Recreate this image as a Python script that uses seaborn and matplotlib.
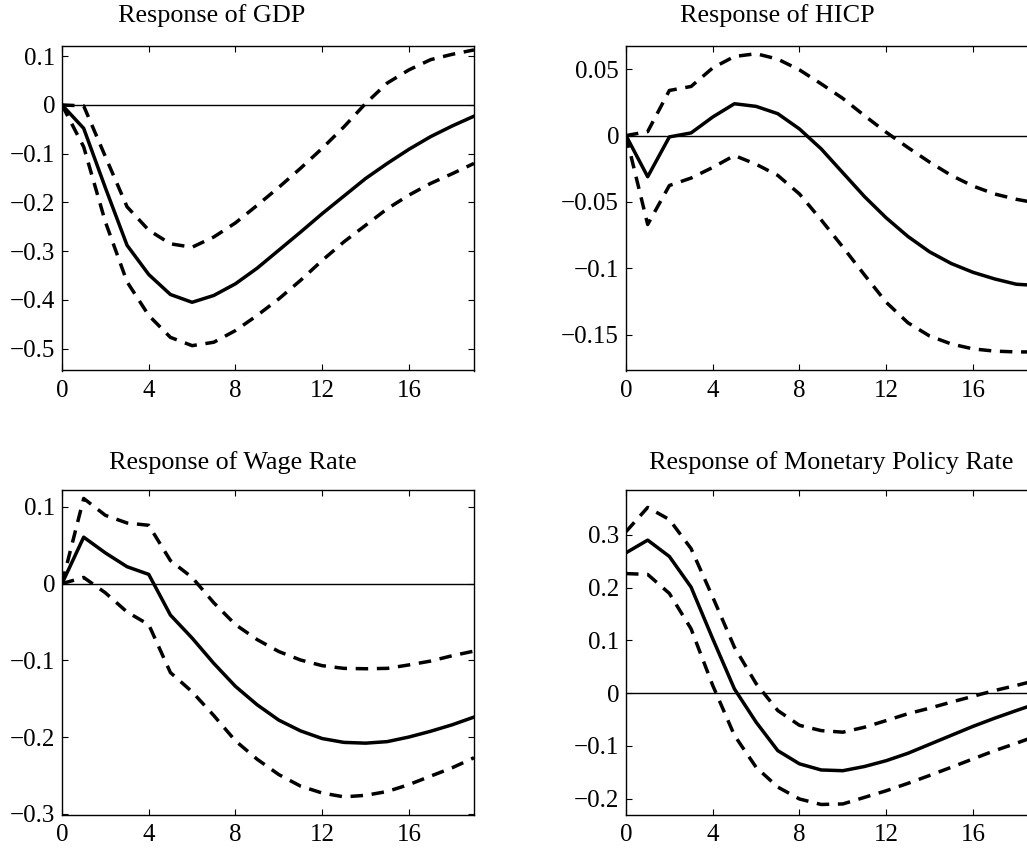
import numpy as np
import pandas as pd
import matplotlib
matplotlib.use("Agg")
import matplotlib.pyplot as plt
import seaborn as sns

horizon = list(range(20))

titles = ["Response of GDP", "Response of HICP",
          "Response of Wage Rate", "Response of Monetary Policy Rate"]

gdp_mid = [0.0, -0.048, -0.17, -0.288, -0.348, -0.389, -0.405, -0.391, -0.367, -0.335,
           -0.298, -0.261, -0.223, -0.187, -0.151, -0.120, -0.091, -0.065, -0.043, -0.023]
gdp_up = [0.0, -0.002, -0.106, -0.209, -0.257, -0.285, -0.292, -0.271, -0.242, -0.206,
          -0.169, -0.130, -0.089, -0.045, 0.003, 0.045, 0.072, 0.093, 0.104, 0.113]
gdp_lo = [0.0, -0.086, -0.24, -0.363, -0.432, -0.477, -0.494, -0.487, -0.463, -0.432,
          -0.398, -0.360, -0.319, -0.281, -0.247, -0.213, -0.185, -0.161, -0.141, -0.120]

hicp_mid = [0.0, -0.031, -0.001, 0.002, 0.014, 0.024, 0.022, 0.0165, 0.005, -0.010,
            -0.028, -0.046, -0.062, -0.076, -0.0876, -0.0964, -0.103, -0.108, -0.112, -0.113]
hicp_up = [0.0, 0.003, 0.034, 0.037, 0.051, 0.0596, 0.0617, 0.0576, 0.0495, 0.039,
           0.028, 0.015, 0.0025, -0.009, -0.020, -0.030, -0.038, -0.044, -0.048, -0.051]
hicp_lo = [0.0, -0.067, -0.0376, -0.032, -0.024, -0.015, -0.0216, -0.030, -0.044, -0.0635,
           -0.084, -0.105, -0.1256, -0.141, -0.151, -0.157, -0.1607, -0.1624, -0.163, -0.163]

wage_mid = [0.0, 0.0605, 0.040, 0.022, 0.012, -0.041, -0.071, -0.104, -0.134, -0.158,
            -0.178, -0.192, -0.202, -0.207, -0.208, -0.206, -0.200, -0.1925, -0.184, -0.174]
wage_up = [0.0, 0.111, 0.089, 0.079, 0.076, 0.030, 0.008, -0.025, -0.0535, -0.073,
           -0.0886, -0.0996, -0.107, -0.1105, -0.111, -0.1105, -0.106, -0.101, -0.094, -0.088]
wage_lo = [0.0, 0.008, -0.012, -0.037, -0.0535, -0.116, -0.141, -0.172, -0.205, -0.229,
           -0.249, -0.264, -0.273, -0.278, -0.276, -0.271, -0.262, -0.251, -0.240, -0.227]

rate_mid = [0.266, 0.290, 0.259, 0.201, 0.103, 0.008, -0.055, -0.109, -0.134, -0.1456,
            -0.147, -0.139, -0.128, -0.114, -0.097, -0.080, -0.063, -0.0475, -0.033, -0.019]
rate_up = [0.306, 0.352, 0.329, 0.274, 0.182, 0.087, 0.018, -0.033, -0.061, -0.071,
           -0.074, -0.0646, -0.052, -0.039, -0.0285, -0.017, -0.006, 0.005, 0.0146, 0.025]
rate_lo = [0.2266, 0.225, 0.189, 0.122, 0.0146, -0.080, -0.1405, -0.178, -0.2006, -0.211,
           -0.210, -0.1975, -0.185, -0.171, -0.156, -0.1405, -0.1247, -0.109, -0.095, -0.080]

yticks = [
    [0.1, 0, -0.1, -0.2, -0.3, -0.4, -0.5],
    [0.05, 0, -0.05, -0.1, -0.15],
    [0.1, 0, -0.1, -0.2, -0.3],
    [0.3, 0.2, 0.1, 0, -0.1, -0.2],
]
ytick_labels = [
    ["0.1", "0", "\u22120.1", "\u22120.2", "\u22120.3", "\u22120.4", "\u22120.5"],
    ["0.05", "0", "\u22120.05", "\u22120.1", "\u22120.15"],
    ["0.1", "0", "\u22120.1", "\u22120.2", "\u22120.3"],
    ["0.3", "0.2", "0.1", "0", "\u22120.1", "\u22120.2"],
]
xticks = [0, 4, 8, 12, 16]

series = [(gdp_mid, gdp_up, gdp_lo), (hicp_mid, hicp_up, hicp_lo),
          (wage_mid, wage_up, wage_lo), (rate_mid, rate_up, rate_lo)]

# layout (not data)
ylims = [(-0.545, 0.121), (-0.177, 0.0675), (-0.301, 0.122), (-0.23, 0.385)]
W, H = 1027, 851
boxes = [(62, 46), (626, 46), (62, 490), (626, 490)]
aw, ah = 412, 324.5
title_x = [0.364, 0.367, 0.414, 0.498]
title_y = [1.0926, 1.0926, 1.084, 1.084]

sns.set_style("ticks")
plt.rcParams["font.family"] = ["Liberation Serif", "DejaVu Serif"]

fig = plt.figure(figsize=(W / 100, H / 100), dpi=100)

DASH = (3.6, 2.5)
for k in range(4):
    x0, y0 = boxes[k]
    ax = fig.add_axes([x0 / W, 1 - (y0 + ah) / H, aw / W, ah / H])
    mid, up, lo = series[k]
    df = pd.DataFrame({"h": horizon, "mid": mid, "up": up, "lo": lo})
    ax.axhline(0, color="black", lw=1.0, zorder=1)
    sns.lineplot(data=df, x="h", y="mid", ax=ax, color="black", lw=2.5, zorder=3)
    for col in ["up", "lo"]:
        sns.lineplot(data=df, x="h", y=col, ax=ax, color="black", lw=2.5, zorder=2)
        ax.lines[-1].set_dashes(DASH)
    ax.set_xlim(0, 19)
    ax.set_ylim(*ylims[k])
    ax.set_xticks(xticks)
    ax.set_xticklabels([str(v) for v in xticks])
    ax.set_yticks(yticks[k])
    ax.set_yticklabels(ytick_labels[k])
    ax.set_xlabel("")
    ax.set_ylabel("")
    ax.tick_params(direction="in", top=True, right=True, length=4.5, width=0.8,
                   labelsize=18, pad=5, colors="black")
    ax.tick_params(axis="x", pad=7)
    for s in ax.spines.values():
        s.set_linewidth(1.0)
        s.set_color("black")
        s.set_visible(True)
    ax.text(title_x[k], title_y[k], titles[k], transform=ax.transAxes,
            ha="center", va="center", fontsize=18.8, color="black")

fig.savefig("out.png", dpi=100)
